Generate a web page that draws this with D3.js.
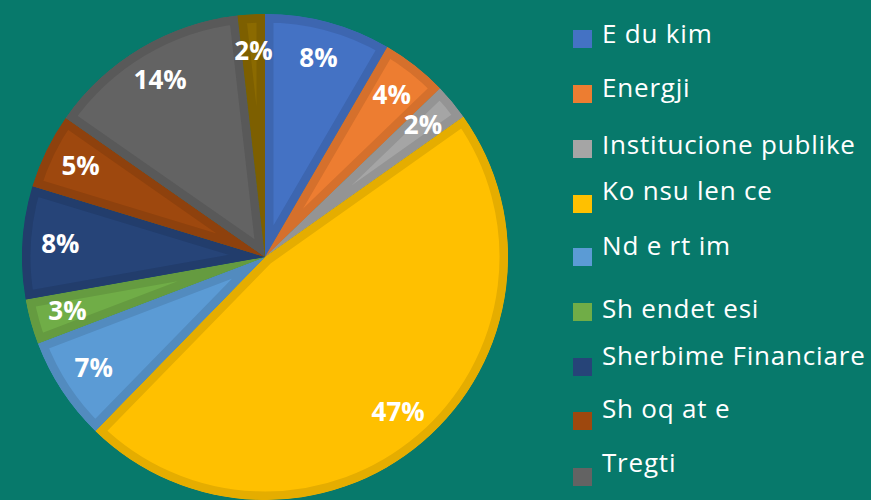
<!DOCTYPE html>
<html>
<head>
<meta charset="utf-8">
<script src="https://cdn.jsdelivr.net/npm/d3@7"></script>
<style>
  body { margin: 0; background: #07796B; }
  svg { display: block; }
</style>
</head>
<body>
<svg class="chart"></svg>
<script>
const categories = ["E du kim", "Energji", "Institucione publike", "Ko nsu len ce", "Nd e rt im",
                    "Sh endet esi", "Sherbime Financiare", "Sh oq at e", "Tregti", ""]
const values = [8.4, 4.4, 2.4, 47.1, 6.9, 3.0, 7.5, 5.0, 13.5, 1.8]
const colors = ["#4472C4", "#ED7D31", "#A5A5A5", "#FFC000", "#5B9BD5",
                "#70AD47", "#264478", "#9E480E", "#636363", "#8B6A00"]

const width = 871, height = 500
const cx = 265, cy = 257, radius = 243

let svg = d3.select(".chart")
    .attr("width", width)
    .attr("height", height)

svg.append("rect")
    .attr("width", width)
    .attr("height", height)
    .attr("fill", "#07796B")

let pie = d3.pie().sort(null).value(function(d) { return d; })
let arc = d3.arc().innerRadius(0).outerRadius(radius)
let labelArc = d3.arc().innerRadius(205).outerRadius(205)

let slices = pie(values)

let chart = svg.append("g")
    .attr("transform", "translate(" + cx + "," + cy + ")")

let defs = svg.append("defs")
defs.selectAll("clipPath")
    .data(slices)
  .enter().append("clipPath")
    .attr("id", function(d, i) { return "clip" + i; })
  .append("path")
    .attr("d", arc)

// fill plus a darker band along the inside edge (bevel look)
chart.selectAll("path.slice")
    .data(slices)
  .enter().append("path")
    .attr("class", "slice")
    .attr("d", arc)
    .attr("fill", function(d, i) { return colors[i]; })
    .attr("stroke", function(d, i) { return d3.color(colors[i]).darker(0.3); })
    .attr("stroke-width", 17)
    .attr("stroke-linejoin", "miter")
    .attr("clip-path", function(d, i) { return "url(#clip" + i + ")"; })

chart.selectAll("text.pct")
    .data(slices)
  .enter().append("text")
    .attr("class", "pct")
    .attr("transform", function(d) { return "translate(" + labelArc.centroid(d) + ")"; })
    .attr("text-anchor", "middle")
    .attr("dy", "0.3em")
    .style("font-family", "'Open Sans', sans-serif")
    .style("font-weight", "bold")
    .style("font-size", "26px")
    .style("fill", "white")
    .text(function(d) { return Math.round(d.data) + "%"; })

// legend (only the nine named categories are listed)
const legendTop = [30, 85, 140, 195, 248, 303, 358, 412, 468]
const legendBase = [43, 97, 154, 200, 255, 318, 365, 418, 472]

let legend = svg.append("g").attr("class", "legend")
let item = legend.selectAll("g")
    .data(categories.slice(0, 9))
  .enter().append("g")

item.append("rect")
    .attr("x", 573)
    .attr("y", function(d, i) { return legendTop[i]; })
    .attr("width", 19)
    .attr("height", 18)
    .attr("fill", function(d, i) { return colors[i]; })

item.append("text")
    .attr("x", 602)
    .attr("y", function(d, i) { return legendBase[i]; })
    .style("font-family", "'Open Sans', sans-serif")
    .style("font-size", "26px")
    .style("letter-spacing", "0.8px")
    .style("fill", "white")
    .text(function(d) { return d; })
</script>
</body>
</html>
